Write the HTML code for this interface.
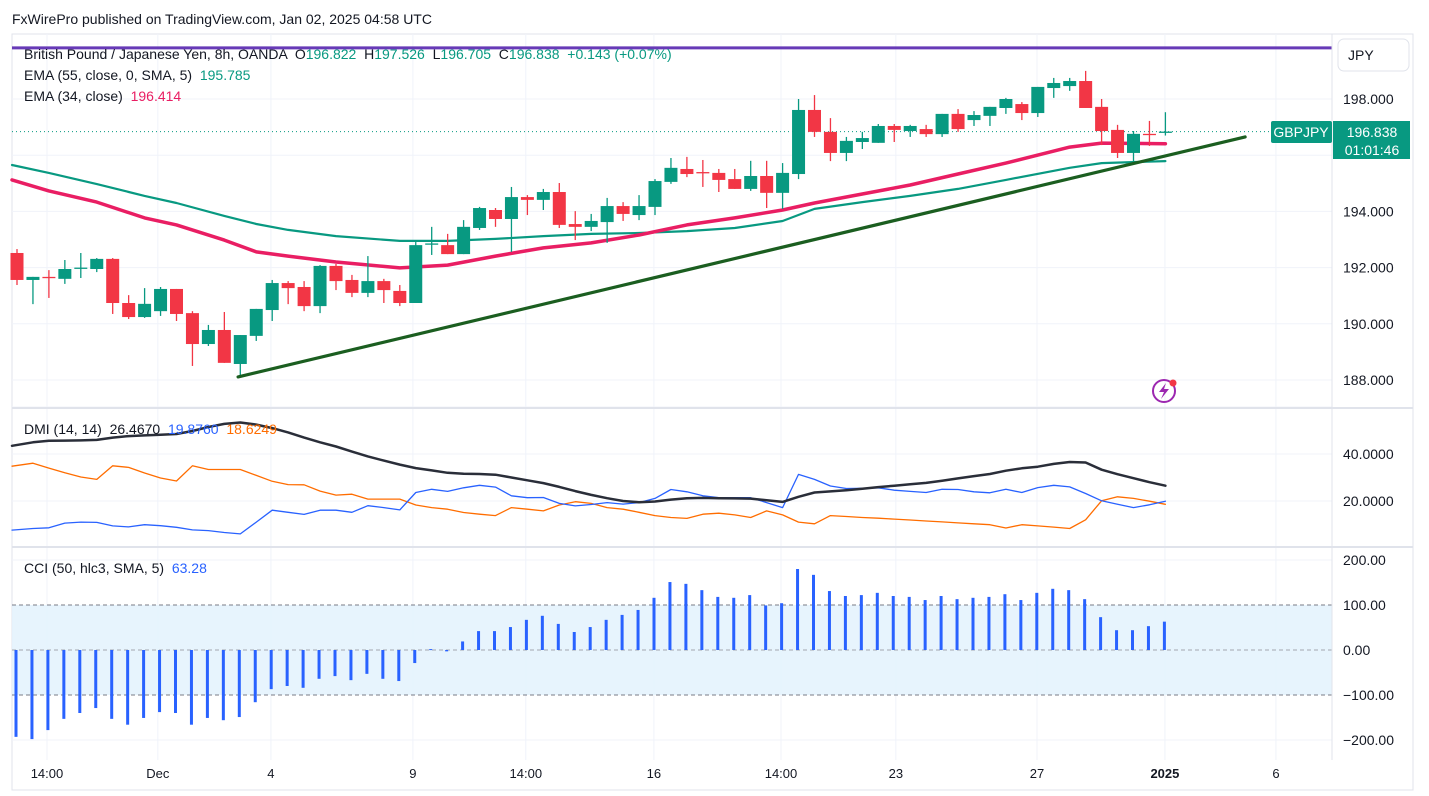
<!DOCTYPE html>
<html><head><meta charset="utf-8">
<style>
html,body{margin:0;padding:0;background:#fff;}
body{width:1429px;height:791px;overflow:hidden;font-family:"Liberation Sans",sans-serif;}
svg text{font-family:"Liberation Sans",sans-serif;white-space:pre;}
</style></head>
<body>
<svg id="chart" width="1429" height="791" xmlns="http://www.w3.org/2000/svg" xml:space="preserve">
<text x="12" y="24" font-size="14" fill="#131722">FxWirePro published on TradingView.com, Jan 02, 2025 04:58 UTC</text>
<rect x="12" y="34" width="1401" height="756" fill="none" stroke="#e0e3eb"/>
<g id="grid"></g>
<rect x="12" y="605" width="1320" height="90" fill="#e3f2fd" opacity="0.85"/>
<g id="main"></g>
<g id="dmi"></g>
<g id="cci"></g>
<line x1="12" y1="408" x2="1413" y2="408" stroke="#e0e3eb" stroke-width="2"/>
<line x1="12" y1="547" x2="1413" y2="547" stroke="#e0e3eb" stroke-width="2"/>
<line x1="1332" y1="34" x2="1332" y2="760" stroke="#e0e3eb"/>
<g id="axes"></g>
<text x="24" y="59" font-size="14" fill="#131722">British Pound / Japanese Yen, 8h, OANDA  O<tspan fill="#089981">196.822</tspan>  H<tspan fill="#089981">197.526</tspan>  L<tspan fill="#089981">196.705</tspan>  C<tspan fill="#089981">196.838  +0.143 (+0.07%)</tspan></text>
<text x="24" y="80" font-size="14" fill="#131722">EMA (55, close, 0, SMA, 5)  <tspan fill="#089981">195.785</tspan></text>
<text x="24" y="101" font-size="14" fill="#131722">EMA (34, close)  <tspan fill="#e91e63">196.414</tspan></text>
<text x="24" y="434" font-size="14" fill="#131722">DMI (14, 14)  26.4670  <tspan fill="#2962ff">19.8760</tspan>  <tspan fill="#ff6d00">18.6249</tspan></text>
<text x="24" y="573" font-size="14" fill="#131722">CCI (50, hlc3, SMA, 5)  <tspan fill="#2962ff">63.28</tspan></text>
<rect x="1338" y="39" width="71" height="32" rx="6" fill="#fff" stroke="#e0e3eb"/>
<text x="1348" y="60" font-size="14" fill="#131722">JPY</text>
<rect x="1271" y="121" width="61" height="22" rx="2" fill="#089981"/>
<text x="1301" y="137" font-size="14" fill="#fff" text-anchor="middle">GBPJPY</text>
<rect x="1333" y="121" width="77" height="38" fill="#089981"/>
<text x="1372" y="137" font-size="14" fill="#fff" text-anchor="middle">196.838</text>
<text x="1372" y="155" font-size="14" fill="#fff" text-anchor="middle">01:01:46</text>
<g>
<circle cx="1164" cy="391" r="11" fill="none" stroke="#9c27b0" stroke-width="2"/>
<path d="M1166 383 L1159 392 L1164 392 L1161 399 L1169 389 L1164 389 Z" fill="#9c27b0"/>
<circle cx="1173" cy="383" r="3.5" fill="#f23645"/>
</g>
</svg>
<script>
// ---- price data (OHLC) ----
const opens=[192.52,191.56,191.67,191.60,191.99,191.95,192.31,190.74,190.24,190.45,191.24,190.38,189.28,189.78,188.57,189.57,190.49,191.45,191.31,190.63,192.06,191.56,191.10,191.52,191.17,190.74,192.84,192.80,192.48,193.41,194.05,193.73,194.51,194.41,194.69,193.55,193.45,193.62,194.19,193.87,194.16,195.05,195.51,195.40,195.37,195.15,194.80,195.26,194.66,195.33,197.61,196.83,196.08,196.47,196.44,197.04,196.86,196.93,196.75,197.47,197.25,197.40,197.68,197.82,197.50,198.39,198.46,198.64,197.72,196.90,196.08,196.76,196.82];
const highs=[192.66,191.67,191.91,192.27,192.52,192.34,192.34,191.02,191.27,191.31,191.24,190.45,189.96,190.42,189.60,190.53,191.56,191.52,191.52,192.09,192.13,191.74,192.41,191.60,191.38,192.91,193.45,193.20,193.69,194.16,194.12,194.87,194.58,194.80,195.01,194.01,193.91,194.48,194.33,194.58,195.15,195.90,195.94,195.83,195.51,195.51,195.80,195.80,195.72,198.00,198.14,197.32,196.65,196.83,197.11,197.11,197.08,197.08,197.47,197.64,197.57,197.72,198.04,197.89,198.43,198.75,198.75,199.00,198.00,197.08,196.86,197.22,197.53];
const lows=[191.38,190.70,190.92,191.42,191.63,191.84,190.35,190.17,190.21,190.28,190.10,188.50,189.21,188.61,188.14,189.39,190.10,190.70,190.45,190.38,191.20,190.95,190.95,190.74,190.63,190.74,192.45,192.48,192.48,193.34,193.45,192.56,193.87,194.05,193.41,192.98,193.30,192.88,193.66,193.69,193.87,194.98,195.22,194.87,194.69,194.80,194.73,194.12,194.09,195.15,196.65,195.79,195.79,196.22,196.44,196.47,196.65,196.65,196.65,196.83,197.04,197.04,197.47,197.25,197.36,198.04,198.29,197.68,196.36,195.90,195.76,196.33,196.70];
const closes=[191.56,191.67,191.63,191.95,192.00,192.31,190.74,190.24,190.71,191.24,190.35,189.28,189.78,188.61,189.60,190.53,191.45,191.27,190.63,192.06,191.52,191.10,191.52,191.20,190.74,192.80,192.86,192.48,193.45,194.12,193.73,194.51,194.41,194.69,193.52,193.45,193.66,194.19,193.91,194.19,195.08,195.55,195.33,195.38,195.12,194.80,195.26,194.66,195.37,197.61,196.83,196.08,196.51,196.61,197.04,196.90,197.04,196.75,197.47,196.93,197.43,197.72,198.00,197.50,198.43,198.57,198.64,197.68,196.86,196.08,196.76,196.75,196.84];
// ---- EMA samples (candle index -> value) ----
const emaIdx=[0,2,5,8,10,13,15,17,20,24,27,30,33,36,39,42,45,48,50,53,56,59,62,66,68,72];
const ema34=[195.12,194.73,194.33,193.77,193.52,192.98,192.56,192.41,192.20,191.99,192.09,192.41,192.70,192.88,193.16,193.52,193.77,194.05,194.30,194.62,194.94,195.33,195.72,196.29,196.43,196.41];
const ema55=[195.65,195.37,194.97,194.55,194.30,193.84,193.55,193.34,193.12,192.95,192.95,193.02,193.12,193.20,193.23,193.30,193.41,193.66,194.09,194.33,194.55,194.80,195.12,195.55,195.72,195.79];
const trendIdx=[13.86,77];
const trendVal=[188.11,196.65];
const levelLine=[199.82];
const lastPrice=[196.838];
const priceTicks=[198,196,194,192,190,188];
const priceTickLabels=["198.000","","194.000","192.000","190.000","188.000"];
// ---- DMI ----
const adx=[43.5,45.0,45.6,45.7,45.8,46.0,47.0,47.6,47.9,48.2,48.5,49.8,51.5,52.8,53.4,52.5,51.0,49.2,47.0,45.0,43.2,41.0,39.0,37.2,35.5,34.0,33.0,32.0,31.6,31.5,31.2,30.0,28.8,27.6,26.0,24.2,22.6,21.2,20.0,19.5,19.8,20.6,21.2,21.3,21.2,21.1,21.0,20.3,19.6,21.8,23.6,24.1,24.6,25.2,25.9,26.5,27.1,27.7,28.6,29.6,30.6,31.5,32.9,33.9,34.6,35.8,36.6,36.4,33.3,31.4,29.7,28.0,26.5];
const plusDI=[7.6,8.3,8.6,10.6,11.0,10.9,9.4,9.0,9.9,9.5,8.8,7.7,7.4,6.6,6.0,11.0,16.1,15.2,14.3,16.1,16.1,15.2,18.0,17.2,16.2,23.6,25.0,24.1,25.6,26.7,25.9,22.2,21.4,21.5,19.0,17.9,18.5,19.3,18.7,19.3,21.1,24.9,23.9,22.2,21.4,21.4,21.4,19.3,17.2,31.3,29.2,26.4,25.3,25.4,25.6,24.6,24.1,23.6,25.0,24.9,23.9,23.5,25.0,23.6,25.7,26.7,26.0,23.2,20.1,18.6,17.2,18.4,19.9];
const minusDI=[34.8,36.1,34.0,32.0,30.2,29.2,35.0,34.3,31.9,29.8,28.5,35.0,33.4,33.4,33.4,30.9,28.4,27.0,26.9,24.2,22.5,22.9,20.8,20.8,20.8,18.3,17.2,16.5,15.1,14.4,13.8,17.2,16.5,15.8,18.3,19.7,19.0,17.2,16.5,15.2,13.8,13.0,12.6,14.4,14.8,14.1,13.0,15.8,14.1,11.0,10.3,13.8,13.4,13.0,12.7,12.3,11.9,11.5,11.1,10.7,10.3,9.9,8.5,9.9,9.4,8.9,8.3,12.0,20.1,21.8,21.1,19.9,18.6];
const dmiTicks=[40,20];
const dmiTickLabels=["40.0000","20.0000"];
// ---- CCI ----
const cci=[-193,-198,-178,-153,-140,-129,-153,-166,-151,-138,-140,-166,-151,-156,-149,-116,-87,-80,-84,-64,-58,-67,-53,-64,-69,-29,2,-3,19,42,42,51,67,76,58,40,51,67,78,89,116,151,147,133,118,116,122,99,104,180,167,131,120,122,127,120,118,111,120,113,116,118,124,111,127,136,133,113,73,44,44,53,63];
const cciTicks=[200,100,0,-100,-200];
const cciTickLabels=["200.00","100.00","0.00","\u2212100.00","\u2212200.00"];
// ---- time axis ----
const timeLabels=["14:00","Dec","4","9","14:00","16","14:00","23","27","2025","6"];
const timeIdx=[1.88,8.83,15.92,24.82,31.9,39.93,47.9,55.1,63.95,71.97,78.93];

const NS="http://www.w3.org/2000/svg";
function xOf(i){return 17+15.95*i;}
function yP(v){return 99+(198-v)*28.1;}
function yD(v){return 454+(40-v)*2.35;}
function yC(v){return 650-v*0.45;}
function mk(tag,attrs,parent){const e=document.createElementNS(NS,tag);for(const k in attrs)e.setAttribute(k,attrs[k]);parent.appendChild(e);return e;}
const grid=document.getElementById('grid'),main=document.getElementById('main'),dmi=document.getElementById('dmi'),cciG=document.getElementById('cci'),axes=document.getElementById('axes');

priceTicks.forEach(v=>{const l=mk('line',{x1:12,x2:1332,y1:yP(v),y2:yP(v),stroke:'#f0f3fa'},grid);

});
[60,40,20].forEach(v=>{const l=mk('line',{x1:12,x2:1332,y1:yD(v),y2:yD(v),stroke:'#f0f3fa'},grid);

});
[200,-200].forEach(v=>{const l=mk('line',{x1:12,x2:1332,y1:yC(v),y2:yC(v),stroke:'#f0f3fa'},grid);

});
timeIdx.forEach((t,k)=>{const x=xOf(t);const l=mk('line',{x1:x,x2:x,y1:34,y2:760,stroke:'#f0f3fa'},grid);


const tx=mk('text',{x:x,y:778,'font-size':13,fill:'#131722','text-anchor':'middle','font-weight':timeLabels[k]==='2025'?'bold':'normal'},axes);tx.textContent=timeLabels[k];

});

[100,0,-100].forEach(v=>{const l=mk('line',{x1:12,x2:1332,y1:yC(v),y2:yC(v),stroke:v===0?'#a3a6af':'#787b86','stroke-dasharray':'4 3'},cciG);

});

const lv=mk('line',{x1:12,x2:1332,y1:yP(levelLine[0]),y2:yP(levelLine[0]),stroke:'#673ab7','stroke-width':3},main);


const lp=mk('line',{x1:12,x2:1271,y1:yP(lastPrice[0]),y2:yP(lastPrice[0]),stroke:'#089981','stroke-dasharray':'1 3'},main);



function poly(idx,vals,fy,color,w,name,parent,x0){let d='';vals.forEach((v,k)=>{const x=(k===0&&x0!==undefined)?x0:xOf(idx[k]);d+=(k?'L':'M')+x.toFixed(1)+' '+fy(v).toFixed(1);});
const p=mk('path',{d:d,fill:'none',stroke:color,'stroke-width':w,'stroke-linejoin':'round','stroke-linecap':'round'},parent);

return p;}
poly(emaIdx,ema55,yP,'#089981',2.2,'ema55-line',main,12);
poly(emaIdx,ema34,yP,'#e91e63',3.5,'ema34-line',main,12);

closes.forEach((c,i)=>{const o=opens[i],up=c>=o,col=up?'#089981':'#f23645',x=xOf(i);
const g=mk('g',{},main);


mk('line',{x1:x,x2:x,y1:yP(highs[i]),y2:yP(lows[i]),stroke:col,'stroke-width':1.3},g);
const t=yP(Math.max(o,c)),b=yP(Math.min(o,c));
mk('rect',{x:x-6.5,y:t,width:13,height:Math.max(1.3,b-t),fill:col},g);});

const tl=mk('line',{x1:xOf(trendIdx[0]),y1:yP(trendVal[0]),x2:xOf(trendIdx[1]),y2:yP(trendVal[1]),stroke:'#1b5e20','stroke-width':3.2,'stroke-linecap':'round'},main);



const allIdx=adx.map((_,i)=>i);
poly(allIdx,minusDI,yD,'#ff6d00',1.3,'minus-di-line',dmi,12);
poly(allIdx,plusDI,yD,'#2962ff',1.3,'plus-di-line',dmi,12);
poly(allIdx,adx,yD,'#2a2e39',2.5,'adx-line',dmi,12);

cci.forEach((v,i)=>{const x=xOf(i)-1;const y0=yC(0),y1=yC(v);
const r=mk('rect',{x:x-1.5,y:Math.min(y0,y1),width:3,height:Math.max(1,Math.abs(y1-y0)),fill:'#2962ff'},cciG);

});

priceTicks.forEach((v,k)=>{if(!priceTickLabels[k])return;const t=mk('text',{x:1343,y:yP(v)+5,'font-size':14,fill:'#131722'},axes);t.textContent=priceTickLabels[k];

});
dmiTicks.forEach((v,k)=>{const t=mk('text',{x:1343,y:yD(v)+5,'font-size':14,fill:'#131722'},axes);t.textContent=dmiTickLabels[k];

});
cciTicks.forEach((v,k)=>{const t=mk('text',{x:1343,y:yC(v)+5,'font-size':14,fill:'#131722'},axes);t.textContent=cciTickLabels[k];

});
</script>
</body></html>
